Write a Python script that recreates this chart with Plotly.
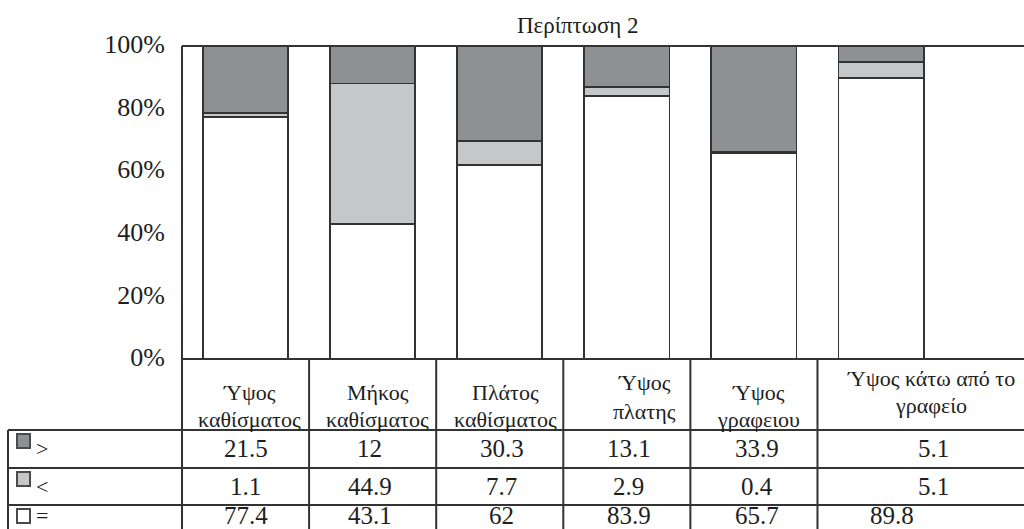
import plotly.graph_objects as go

# ---- data -------------------------------------------------------------
categories = ["Ύψος καθίσματος", "Μήκος καθίσματος", "Πλάτος καθίσματος",
              "Ύψος πλατης", "Ύψος γραφειου", "Ύψος κάτω από το γραφείο"]
series_names = [">", "<", "="]
values_gt = [21.5, 12, 30.3, 13.1, 33.9, 5.1]
values_lt = [1.1, 44.9, 7.7, 2.9, 0.4, 5.1]
values_eq = [77.4, 43.1, 62, 83.9, 65.7, 89.8]
y_ticks = [0, 20, 40, 60, 80, 100]
title_text = "Περίπτωση 2"

# ---- page geometry (pixels) ------------------------------------------
W, H = 1024, 529
PLOT_L, PLOT_T, PLOT_B = 182, 46, 359
ROW_LINES = [430, 468, 505]           # top edges of the three data rows
ROW_MID = [448, 486, 515]             # text centre line of each data row
TABLE_L = 8
X_RANGE = [-0.5, 6.125]

FONT = "Liberation Serif, Times New Roman, serif"
TXT = "#1e1e1e"
EDGE = "#333333"
FILLS = {">": "#8f9092", "<": "#c6c7c9", "=": "#ffffff"}
FS_TICK = 26
FS_VAL = 25
FS_HEAD = 22
FS_TITLE = 23


def py(y):
    return 1 - y / H


def px(x):
    return x / W


series = {">": values_gt, "<": values_lt, "=": values_eq}

fig = go.Figure()
# stacked from the bottom: "=", then "<", then ">"
for name in ["=", "<", ">"]:
    fig.add_bar(
        x=categories, y=series[name], name=name, width=0.67,
        marker=dict(color=FILLS[name], line=dict(color=EDGE, width=1.8)),
        showlegend=False,
        hovertemplate="%{x}<br>" + name + " %{y}<extra></extra>",
    )

shapes = []
line = dict(color=EDGE, width=2)
# plot frame: top and left
shapes.append(dict(type="line", xref="x domain", yref="y domain",
                   x0=0, x1=1, y0=1, y1=1, line=line))
shapes.append(dict(type="line", xref="x domain", yref="paper",
                   x0=0, x1=0, y0=py(PLOT_T), y1=py(H + 5), line=line))
# table: top line (base of the bars)
shapes.append(dict(type="line", xref="x domain", yref="paper",
                   x0=0, x1=1, y0=py(PLOT_B), y1=py(PLOT_B), line=line))
# row separators, spanning the legend column too
for yl in ROW_LINES:
    shapes.append(dict(type="line", xref="paper", yref="paper",
                       x0=px(TABLE_L), x1=1, y0=py(yl), y1=py(yl), line=line))
# legend column left border
shapes.append(dict(type="line", xref="paper", yref="paper",
                   x0=px(TABLE_L), x1=px(TABLE_L), y0=py(ROW_LINES[0]),
                   y1=py(H + 5), line=line))
# column separators at category boundaries
for k in range(len(categories) - 1):
    shapes.append(dict(type="line", xref="x", yref="paper",
                       x0=k + 0.5, x1=k + 0.5, y0=py(PLOT_B), y1=py(H + 5),
                       line=line))

annotations = []
# title
annotations.append(dict(text=title_text, xref="paper", yref="paper",
                        x=px(578), y=py(25), xanchor="center", yanchor="middle",
                        showarrow=False,
                        font=dict(family=FONT, size=FS_TITLE, color=TXT)))

# header cells: category names on two lines
head_shift = [4, 5, 6, 18, 5, 50]
head_rows = [(392, 419), (392, 419), (392, 419), (382, 411), (392, 419), (378, 405)]
for i, cat in enumerate(categories):
    parts = cat.rsplit(" ", 1)
    for part, yc in zip(parts, head_rows[i]):
        annotations.append(dict(text=part, xref="x", yref="paper",
                                x=cat, y=py(yc), xshift=head_shift[i],
                                xanchor="center", yanchor="middle",
                                showarrow=False,
                                font=dict(family=FONT, size=FS_HEAD, color=TXT)))

# data rows: legend key + values
val_shift = [0, -3, 2, 2, 3, 52]
for r, name in enumerate(series_names):
    top = ROW_LINES[r]
    mid = ROW_MID[r]
    shapes.append(dict(type="rect", xref="paper", yref="paper",
                       x0=px(17), x1=px(30), y0=py(top + 4), y1=py(top + 18),
                       fillcolor=FILLS[name], line=dict(color="#4a4a4a", width=2)))
    annotations.append(dict(text=name, xref="paper", yref="paper",
                            x=px(34), y=py(mid), xanchor="left", yanchor="middle",
                            showarrow=False,
                            font=dict(family=FONT, size=FS_HEAD, color=TXT)))
    for i, cat in enumerate(categories):
        shift = val_shift[i]
        if r == 2 and i == 5:
            shift = 11
        v = series[name][i]
        annotations.append(dict(text=f"{v:g}", xref="x", yref="paper",
                                x=cat, y=py(mid), xshift=shift,
                                xanchor="center", yanchor="middle",
                                showarrow=False,
                                font=dict(family=FONT, size=FS_VAL, color=TXT)))

fig.update_layout(
    width=W, height=H,
    margin=dict(l=0, r=0, t=0, b=0, autoexpand=False),
    paper_bgcolor="white", plot_bgcolor="white",
    barmode="stack", barnorm="percent",
    xaxis=dict(domain=[px(PLOT_L), 1], range=X_RANGE, type="category",
               categoryorder="array", categoryarray=categories,
               showticklabels=False, showgrid=False, zeroline=False,
               showline=False, ticks="", automargin=False),
    yaxis=dict(domain=[py(PLOT_B), py(PLOT_T)], range=[0, 100],
               tickvals=y_ticks, ticktext=[f"{t}%" for t in y_ticks],
               showgrid=False, zeroline=False, showline=False, ticks="",
               ticklabelstandoff=16, ticklabelshift=-2, automargin=False,
               tickfont=dict(family=FONT, size=FS_TICK, color=TXT)),
    shapes=shapes, annotations=annotations,
    showlegend=False,
)

fig.write_html("out.html")
